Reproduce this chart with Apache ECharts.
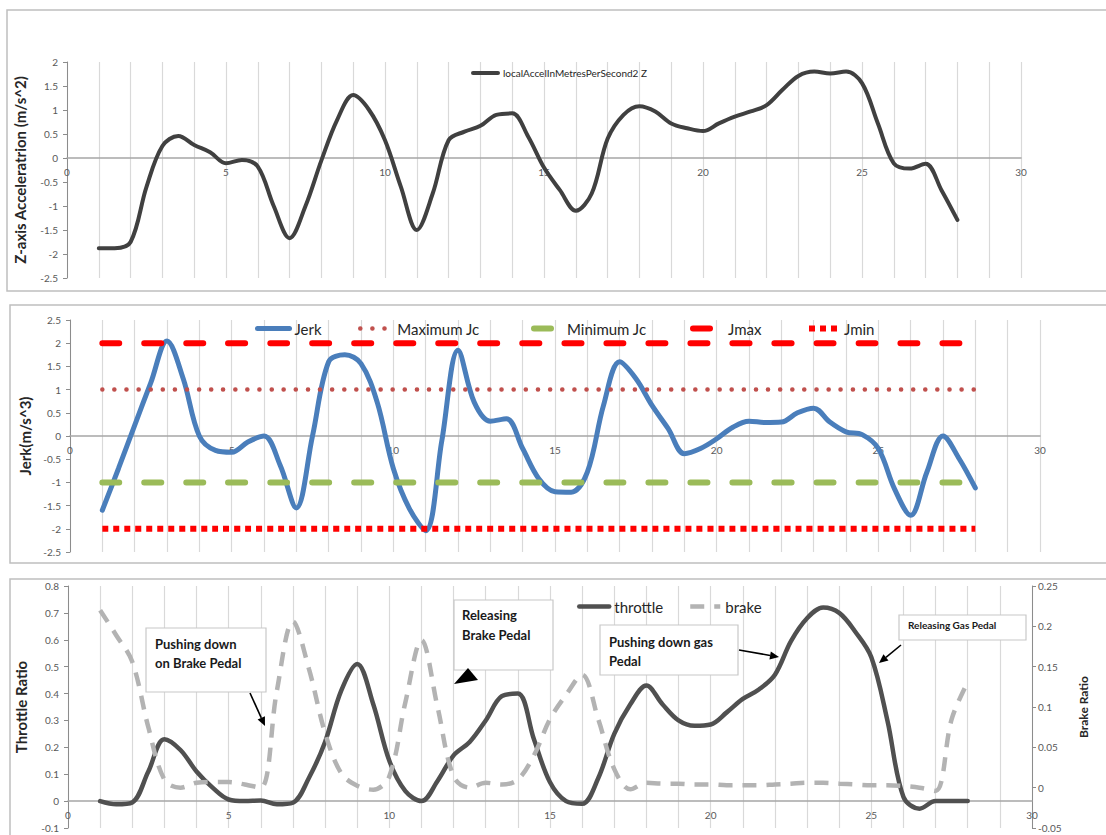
<!DOCTYPE html>
<html><head><meta charset="utf-8">
<script src="https://cdn.jsdelivr.net/npm/echarts@6/dist/echarts.min.js"></script>
<style>html,body{margin:0;padding:0;background:#fff}#c{width:1106px;height:835px}</style>
</head><body><div id="c"></div>
<script>
// time stamps (x), 0.5 steps
const timeX = [1,1.5,2,2.5,3,3.5,4,4.5,5,5.5,6,6.5,7,7.5,8,8.5,9,9.5,10,10.5,11,11.5,12,12.5,13,13.5,14,14.5,15,15.5,16,16.5,17,17.5,18,18.5,19,19.5,20,20.5,21,21.5,22,22.5,23,23.5,24,24.5,25,25.5,26,26.5,27,27.5,28];
// Panel 1: localAccelInMetresPerSecond2 Z
const accelZ = [-1.88,-1.88,-1.75,-0.6,0.25,0.46,0.27,0.12,-0.11,-0.04,-0.18,-1.0,-1.67,-1.0,-0.05,0.8,1.31,1.0,0.37,-0.6,-1.5,-0.74,0.37,0.55,0.67,0.9,0.93,0.45,-0.2,-0.67,-1.1,-0.74,0.4,0.9,1.08,0.97,0.72,0.62,0.56,0.72,0.86,0.97,1.1,1.42,1.71,1.8,1.76,1.8,1.56,0.72,-0.11,-0.22,-0.12,-0.67,-1.29];
// Panel 2: Jerk
const jerk = [-1.6,-0.7,0.23,1.15,2.05,1.24,0.0,-0.31,-0.35,-0.13,0.0,-0.63,-1.55,0.0,1.6,1.75,1.56,0.73,-0.7,-1.57,-2.04,-0.1,1.85,0.73,0.32,0.37,-0.27,-0.92,-1.2,-1.21,-0.78,0.66,1.6,1.24,0.66,0.16,-0.38,-0.27,-0.06,0.19,0.32,0.29,0.3,0.5,0.6,0.3,0.09,0.03,-0.27,-1.14,-1.71,-0.78,0.0,-0.49,-1.12];
const limitX = [1, 28];
const maximumJc = 1, minimumJc = -1, jMax = 2, jMin = -2;
// Panel 3: throttle (left axis) and brake (right axis)
const throttle = [0,-0.012,-0.005,0.11,0.23,0.19,0.11,0.05,0.006,0,0.002,-0.012,-0.006,0.087,0.22,0.41,0.51,0.36,0.15,0.037,0,0.075,0.17,0.22,0.3,0.39,0.40,0.23,0.07,0,-0.01,0.085,0.25,0.36,0.43,0.36,0.3,0.28,0.285,0.33,0.38,0.415,0.47,0.595,0.68,0.72,0.70,0.63,0.535,0.3,0.015,-0.028,0,0,0];
const brake = [0.22,0.189,0.156,0.075,0.01,0.0,0.006,0.007,0.007,0.004,0,0.12,0.206,0.147,0.068,0.018,0.0025,-0.0025,0.014,0.106,0.183,0.1,0.014,0,0.006,0.004,0.01,0.04,0.085,0.115,0.14,0.085,0.023,-0.002,0.006,0.005,0.005,0.004,0.004,0.003,0.003,0.003,0.004,0.005,0.006,0.006,0.005,0.004,0.003,0.003,0.002,0,-0.004,0.085,0.131];
// axis ticks
const xTicks = {min: 0, max: 30, interval: 1, labelEvery: 5};
const y1Ticks = {min: -2.5, max: 2, interval: 0.5};
const y2Ticks = {min: -2.5, max: 2.5, interval: 0.5};
const y3Ticks = {min: -0.1, max: 0.8, interval: 0.1};
const y3rTicks = {min: -0.05, max: 0.25, interval: 0.05};

const FONT = 'Lato, "Open Sans", sans-serif';
const pair = (arr) => timeX.map((t, i) => [t, arr[i]]);
const flat = (v) => limitX.map(t => [t, v]);

function xAxisCfg(grid) {
  return {
    type: 'value', gridIndex: grid, min: xTicks.min, max: xTicks.max, interval: xTicks.interval,
    axisLine: {show: true, onZero: false, lineStyle: {color: '#a6a6a6', width: 1.5}},
    axisTick: {show: false},
    axisLabel: {color: '#595959', fontSize: 10, fontFamily: FONT, margin: 9,
      formatter: v => (v % xTicks.labelEvery === 0 ? String(v) : '')},
    splitLine: {show: true, lineStyle: {color: '#d9d9d9', width: 1.2}}
  };
}
function yAxisCfg(grid, t, name, gap, extra) {
  return Object.assign({
    type: 'value', gridIndex: grid, min: t.min, max: t.max, interval: t.interval,
    axisLine: {show: true, onZero: false, lineStyle: {color: '#8c8c8c', width: 1}},
    axisTick: {show: true, length: 4, lineStyle: {color: '#8c8c8c'}},
    axisLabel: {color: '#595959', fontSize: 10, fontFamily: FONT, margin: 9},
    splitLine: {show: false},
    name: name, nameLocation: 'middle', nameGap: gap, nameRotate: 90,
    nameTextStyle: {fontFamily: FONT, fontWeight: 'bold', fontSize: 15, color: '#262626'}
  }, extra || {});
}
function lineSeries(name, xi, yi, data, color, width, dash, cap, z) {
  return {name, type: 'line', xAxisIndex: xi, yAxisIndex: yi, data, symbol: 'none', smooth: 0.35,
    lineStyle: {color, width, type: dash || 'solid', cap: cap || 'round'}, itemStyle: {color}, z: z || 2};
}
function legendCfg(name, left, top, w, h, fs) {
  return {data: [name], left, top, itemWidth: w, itemHeight: h, padding: 0, itemGap: 0, selectedMode: false,
    itemStyle: {opacity: 0}, lineStyle: {width: 'inherit'},
    textStyle: {fontFamily: FONT, fontSize: fs, color: '#262626'}};
}
function arrow(x1, y1, x2, y2) {
  const a = Math.atan2(y2 - y1, x2 - x1), L = 9, W = 4;
  const bx = x2 - L * Math.cos(a), by = y2 - L * Math.sin(a);
  return [
    {type: 'line', shape: {x1, y1, x2: bx, y2: by}, style: {stroke: '#000', lineWidth: 1.6}, z: 20},
    {type: 'polygon', shape: {points: [[x2, y2], [bx + W * Math.sin(a), by - W * Math.cos(a)], [bx - W * Math.sin(a), by + W * Math.cos(a)]]}, style: {fill: '#000'}, z: 20}
  ];
}
function box(x, y, w, h) {
  return {type: 'rect', shape: {x, y, width: w, height: h}, style: {fill: '#fff', stroke: '#c8c8c8', lineWidth: 1.2}, z: 15};
}
function label(text, x, y, fs) {
  return {type: 'text', x, y, z: 21, style: {text, fill: '#1a1a1a', font: 'bold ' + fs + 'px ' + FONT, verticalAlign: 'middle', align: 'left'}};
}

const chart = echarts.init(document.getElementById('c'), null, {renderer: 'svg'});
chart.setOption({
  animation: false,
  backgroundColor: '#fff',
  grid: [
    {left: 67, top: 62, width: 954, height: 216, containLabel: false, outerBoundsMode: 'none'},
    {left: 70, top: 320, width: 970, height: 232, containLabel: false, outerBoundsMode: 'none'},
    {left: 68, top: 586, width: 964, height: 242, containLabel: false, outerBoundsMode: 'none'}
  ],
  xAxis: [xAxisCfg(0), xAxisCfg(1), xAxisCfg(2)],
  yAxis: [
    yAxisCfg(0, y1Ticks, 'Z-axis Acceleratrion (m/s^2)', 40),
    yAxisCfg(1, y2Ticks, 'Jerk(m/s^3)', 36),
    yAxisCfg(2, y3Ticks, 'Throttle Ratio', 40),
    yAxisCfg(2, y3rTicks, 'Brake Ratio', 45, {position: 'right',
      axisLabel: {color: '#595959', fontSize: 10, fontFamily: FONT, margin: 6},
      nameTextStyle: {fontFamily: FONT, fontWeight: 'bold', fontSize: 12, color: '#262626'}})
  ],
  legend: [
    legendCfg('localAccelInMetresPerSecond2 Z', 471, 68, 25, 10, 10),
    legendCfg('Jerk', 255, 321, 32, 14, 15),
    legendCfg('Maximum Jc', 358, 321, 32, 14, 15),
    legendCfg('Minimum Jc', 531, 321, 28, 14, 15),
    legendCfg('Jmax', 690, 321, 30, 14, 15),
    legendCfg('Jmin', 806, 321, 30, 14, 15),
    legendCfg('throttle', 577, 599, 30, 14, 15),
    legendCfg('brake', 688, 599, 30, 14, 15)
  ],
  series: [
    lineSeries('localAccelInMetresPerSecond2 Z', 0, 0, pair(accelZ), '#404040', 4),
    lineSeries('Jerk', 1, 1, pair(jerk), '#4a7ebb', 5),
    lineSeries('Maximum Jc', 1, 1, flat(maximumJc), '#c0504d', 4.5, [0.1, 12], 'round'),
    lineSeries('Minimum Jc', 1, 1, flat(minimumJc), '#9bbb59', 6, [17, 25], 'round'),
    lineSeries('Jmax', 1, 1, flat(jMax), '#ff0000', 6, [17, 25], 'round'),
    lineSeries('Jmin', 1, 1, flat(jMin), '#ff0000', 6, [6, 5], 'butt'),
    lineSeries('throttle', 2, 2, pair(throttle), '#505050', 4.5),
    lineSeries('brake', 2, 3, pair(brake), '#b3b3b3', 4.5, [14, 10], 'butt')
  ],
  graphic: [
    {type: 'rect', shape: {x: 7, y: 10, width: 1110, height: 281}, style: {fill: 'none', stroke: '#bfbfbf', lineWidth: 1.5}, z: 0, silent: true},
    {type: 'rect', shape: {x: 10, y: 305, width: 1110, height: 258}, style: {fill: 'none', stroke: '#bfbfbf', lineWidth: 1.5}, z: 0, silent: true},
    {type: 'rect', shape: {x: 10, y: 579, width: 1110, height: 280}, style: {fill: 'none', stroke: '#bfbfbf', lineWidth: 1.5}, z: 0, silent: true},
    box(146, 628, 120, 64),
    label('Pushing down', 155, 644, 13),
    label('on Brake Pedal', 155, 663, 13),
    ...arrow(250, 693, 265, 726),
    box(454, 600, 99, 70),
    label('Releasing', 462, 615, 13),
    label('Brake Pedal', 462, 635, 13),
    {type: 'polygon', shape: {points: [[454, 684], [478, 680], [468, 668]]}, style: {fill: '#000'}, z: 20},
    box(600, 625, 138, 50),
    label('Pushing down gas', 609, 642, 13),
    label('Pedal', 609, 661, 13),
    ...arrow(739, 650, 779, 657),
    box(899, 615, 127, 25),
    label('Releasing Gas Pedal', 908, 625, 10),
    ...arrow(901, 645, 879, 663)
  ]
});
// Put each x axis (line + labels) on the left y axis' zero line, like the original
const yForX = [[0, y1Ticks], [1, y2Ticks], [2, y3Ticks]];
chart.setOption({
  xAxis: yForX.map(([yi, t]) => ({
    offset: chart.convertToPixel({yAxisIndex: yi}, 0) - chart.convertToPixel({yAxisIndex: yi}, t.min)
  }))
});
</script></body></html>
